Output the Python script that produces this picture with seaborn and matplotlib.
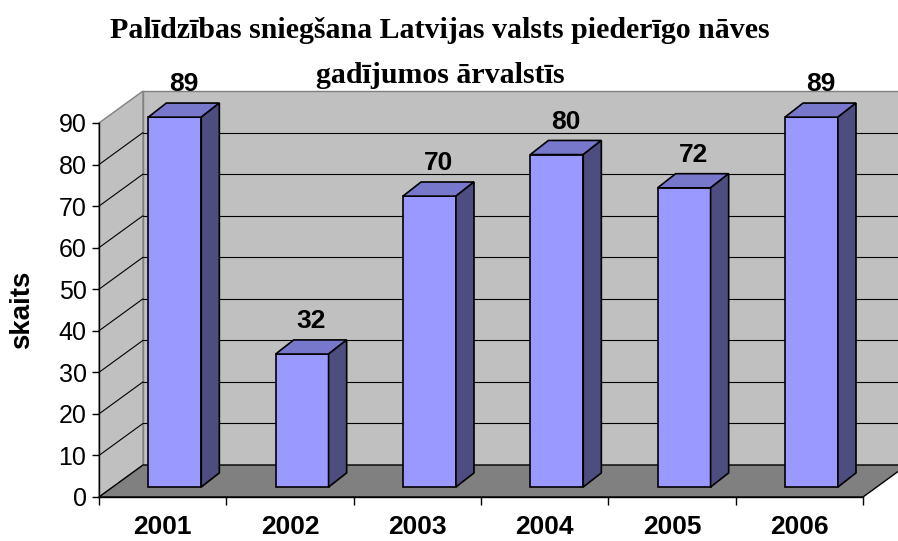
import pandas as pd
import matplotlib
matplotlib.use("Agg")
import matplotlib.pyplot as plt
import seaborn as sns
from matplotlib.patches import Polygon

# data
years = ["2001", "2002", "2003", "2004", "2005", "2006"]
counts = [89, 32, 70, 80, 72, 89]
y_ticks = list(range(0, 91, 10))
title_lines = ["Palīdzības sniegšana Latvijas valsts piederīgo nāves", "gadījumos ārvalstīs"]
y_label = "skaits"

# colours (Excel 2003 style 3D column)
front_color = "#9999FF"
top_color = "#7777CC"
side_color = "#4D4D80"
wall_color = "#C0C0C0"
floor_color = "#808080"
edge_gray = "#808080"

# depth of the fake 3D box, in data units
DX, DY = 0.3456, 7.7
bar_ox, bar_oy = 0.095, 2.4       # front face of the bars sits a bit back
bar_dx, bar_dy = 0.142, 3.4       # bar depth

sns.set_style("white")
plt.rcParams["font.family"] = ["Liberation Sans", "DejaVu Sans"]
plt.rcParams["text.color"] = "black"
plt.rcParams["axes.labelcolor"] = "black"
plt.rcParams["xtick.color"] = "black"
plt.rcParams["ytick.color"] = "black"

df = pd.DataFrame({"year": years, "count": counts})

fig = plt.figure(figsize=(8.98, 5.41), dpi=100)
ax = fig.add_axes([99 / 898, 44 / 541, 764 / 898, 374 / 541])
ax.patch.set_visible(False)

sns.barplot(data=df, x="year", y="count", color=front_color, width=0.416,
            saturation=1, edgecolor="black", linewidth=1.2, ax=ax, zorder=5)
bars = list(ax.patches)

x_lo, x_hi = -0.5, len(years) - 0.5
y_top = y_ticks[-1]
ax.set_xlim(x_lo, x_hi)
ax.set_ylim(0, y_top)

# walls and floor
back = Polygon([(x_lo + DX, DY), (x_hi + DX, DY), (x_hi + DX, y_top + DY), (x_lo + DX, y_top + DY)],
               closed=True, facecolor=wall_color, edgecolor=edge_gray, lw=1, zorder=0, clip_on=False)
left = Polygon([(x_lo, 0), (x_lo + DX, DY), (x_lo + DX, y_top + DY), (x_lo, y_top)],
               closed=True, facecolor=wall_color, edgecolor=edge_gray, lw=1, zorder=0, clip_on=False)
floor = Polygon([(x_lo, 0), (x_hi, 0), (x_hi + DX, DY), (x_lo + DX, DY)],
                closed=True, facecolor=floor_color, edgecolor="black", lw=1, zorder=0.5, clip_on=False)
for p in (back, left, floor):
    ax.add_patch(p)

for y in y_ticks[1:-1]:
    ax.plot([x_lo + DX, x_hi + DX], [y + DY, y + DY], color="black", lw=0.8, zorder=1, clip_on=False)
    ax.plot([x_lo, x_lo + DX], [y, y + DY], color="black", lw=0.8, zorder=1, clip_on=False)

# push the bars back and add top / side faces
for p, v in zip(bars, counts):
    x0 = p.get_x() + bar_ox
    p.set_x(x0)
    p.set_y(bar_oy)
    p.set_clip_on(False)
    w, h = p.get_width(), p.get_height()
    yt = bar_oy + h
    top = Polygon([(x0, yt), (x0 + w, yt), (x0 + w + bar_dx, yt + bar_dy), (x0 + bar_dx, yt + bar_dy)],
                  closed=True, facecolor=top_color, edgecolor="black", lw=1.2, zorder=6, clip_on=False)
    side = Polygon([(x0 + w, bar_oy), (x0 + w + bar_dx, bar_oy + bar_dy), (x0 + w + bar_dx, yt + bar_dy), (x0 + w, yt)],
                   closed=True, facecolor=side_color, edgecolor="black", lw=1.2, zorder=6, clip_on=False)
    ax.add_patch(top)
    ax.add_patch(side)
    ax.text(x0 + w / 2 + bar_dx / 2, yt + bar_dy + 1.6, str(v), ha="center", va="bottom",
            fontsize=19, fontweight="bold", zorder=7)

# axes, ticks, labels
for s in ("top", "right"):
    ax.spines[s].set_visible(False)
for s in ("left", "bottom"):
    ax.spines[s].set_color("black")
    ax.spines[s].set_linewidth(1)
    ax.spines[s].set_zorder(2)

ax.set_yticks(y_ticks)
ax.set_xticks(range(len(years)))
ax.set_xticklabels(years)
ax.set_xticks([i - 0.5 for i in range(len(years) + 1)], minor=True)
ax.tick_params(axis="y", left=True, length=5, width=1, color="black", labelsize=18, pad=4)
ax.tick_params(axis="x", which="major", bottom=True, length=0, pad=13, labelsize=19)
ax.tick_params(axis="x", which="minor", bottom=True, length=6, width=1, color="black")
for t in ax.get_xticklabels():
    t.set_fontweight("bold")

ax.set_xlabel("")
ax.set_ylabel(y_label, fontsize=20, fontweight="bold", labelpad=17)

# two-line title, each line placed on its own baseline
for line, base_px in zip(title_lines, (38, 83)):
    fig.text(440 / 898, 1 - base_px / 541, line, ha="center", va="baseline", fontsize=21.5,
             fontweight="bold", family=["Liberation Serif", "DejaVu Serif"])

fig.savefig("out.png", dpi=100)
